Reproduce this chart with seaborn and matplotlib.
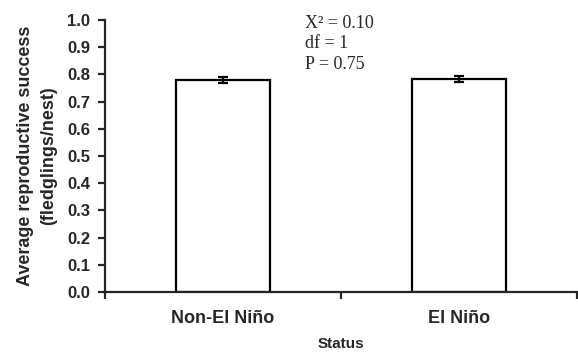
import matplotlib
matplotlib.use("Agg")
import matplotlib.pyplot as plt
import seaborn as sns
import pandas as pd

# dados
status = ["Non-El Niño", "El Niño"]
sucesso = [0.779, 0.783]
erro = [0.011, 0.011]
yticks = [0.0, 0.1, 0.2, 0.3, 0.4, 0.5, 0.6, 0.7, 0.8, 0.9, 1.0]

sns.set_style("ticks")
plt.rcParams['font.family'] = ['Liberation Sans', 'DejaVu Sans']

df = pd.DataFrame({"Status": status, "sucesso": sucesso})

fig = plt.figure(figsize=(5.78, 3.53), dpi=100)
ax = fig.add_axes([0.1817, 0.1728, 0.8163, 0.7705])
sns.barplot(data=df, x="Status", y="sucesso", ax=ax, color="white",
            edgecolor="black", linewidth=1.6, width=0.4, errorbar=None)
ax.errorbar(range(len(status)), sucesso, yerr=erro, fmt="none",
            ecolor="black", elinewidth=1.6, capsize=3.6, capthick=1.6)

ax.set_xlim(-0.5, 1.5)
ax.set_ylim(0, 1.0)
ax.set_yticks(yticks)
ax.set_yticklabels(["%.1f" % v for v in yticks], fontsize=12, fontweight="bold")
ax.set_xticks([-0.5, 0.5, 1.5])
ax.set_xticklabels([])
ax.tick_params(axis="x", length=5, width=1.6)
ax.tick_params(axis="y", length=5, width=1.6, pad=5.8)
# rotulos das categorias no meio
for i, s in enumerate(status):
    ax.text(i, -0.065, s, ha="center", va="top", fontsize=13,
            fontweight="bold", transform=ax.get_xaxis_transform())
ax.set_xlabel("Status", fontsize=11, fontweight="bold", labelpad=24)
ax.set_ylabel("Average reproductive success\n(fledglings/nest)",
              fontsize=13, fontweight="bold", labelpad=7, linespacing=1.5)

for side in ["top", "right"]:
    ax.spines[side].set_visible(False)
for side in ["left", "bottom"]:
    ax.spines[side].set_linewidth(1.6)

# estatisticas
serif = ['Liberation Serif', 'DejaVu Serif']
ax.text(0.424, 0.989, "X² = 0.10", transform=ax.transAxes, fontsize=13,
        family=serif, va="center")
ax.text(0.424, 0.915, "df = 1", transform=ax.transAxes, fontsize=13,
        family=serif, va="center")
ax.text(0.424, 0.835, "P = 0.75", transform=ax.transAxes, fontsize=13,
        family=serif, va="center")

fig.savefig("out.png", dpi=100)
